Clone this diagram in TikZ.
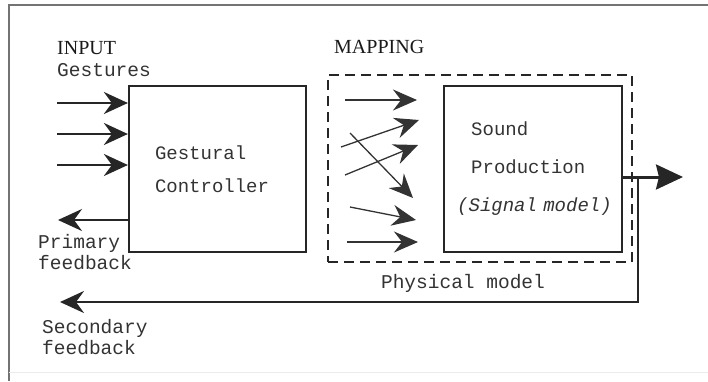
\documentclass[tikz,border=0pt]{standalone}
\usepackage{fontspec}
\setmainfont{Liberation Serif}
\newfontfamily\slabfont{Liberation Mono}
\usepackage{tikz}
\usetikzlibrary{calc}
\usetikzlibrary{arrows.meta}
\usetikzlibrary{positioning}

\begin{document}
\begin{tikzpicture}[x=1pt,y=-1pt]
% 1 = 1 pixel of the sketch, y grows downwards
    \def\BOXW{177pt} %width of blocks
    \def\BOXH{166pt} %height of blocks
    \def\YOUT{177}   %output line
    \def\YSEC{302}   %secondary feedback line
    \def\XTAP{638}

    \tikzset{
      block/.style={draw=black!85, line width=2.2pt,
        minimum width=\BOXW, minimum height=\BOXH,
        text width=125pt, inner xsep=26pt, align=left,
        font=\slabfont\fontsize{19}{33}\selectfont, text=black!80},
      lbl/.style={inner sep=0pt, anchor=west, align=left, text=black!80,
        font=\slabfont\fontsize{19.5}{21}\selectfont},
      head/.style={inner sep=0pt, anchor=west, text=black!90,
        font=\fontsize{20}{24}\selectfont},
      thickarrow/.style={-{Stealth[length=24pt,width=22pt,inset=8pt]},
        line width=2.5pt, draw=black!85},
      thinarrow/.style={-{Stealth[length=24pt,width=21pt,inset=8pt]},
        line width=1.3pt, draw=black!80},
    }

    \useasboundingbox (0,0) rectangle (708,381);

    % FRAME
    \draw[black!55, line width=1.5pt] (708,5) -- (9,5) -- (9,381);
    \draw[black!8, line width=1pt] (9,372) -- (708,372);

    % BLOCKS
    \node[block] (ctrl) at (217.5,169) {Gestural\\Controller};
    \node[block, right=136pt of ctrl, minimum width=178pt,
        text width=124pt, inner xsep=27pt,
        font=\slabfont\fontsize{19}{38}\selectfont]
        (sound) {Sound\\Production\\%
        \hspace*{-14pt}\mbox{\textit{(Signal model)}}};
    \node[draw=black!85, dash pattern=on 10pt off 6pt, line width=2.5pt,
        minimum width=304pt, minimum height=187pt] (mapbox) at (480,168.5) {};

    % LABELS
    \node[head] (input) at (57,48) {INPUT};
    \node[lbl] (gestures) at (57,70) {Gestures};
    \node[head] (mapping) at (334,47) {MAPPING};
    \node[lbl] (primary) at (38,252.5) {Primary\\feedback};
    \node[lbl] (secondary) at (42,337.5) {Secondary\\feedback};
    \node[lbl, anchor=center] (physical) at (463,283) {Physical model};

    % INPUT ARROWS
    \coordinate (g1) at (57,103);
    \coordinate (g2) at (57,134);
    \coordinate (g3) at (57,165);
    \draw[thickarrow] (g1) -- (g1 -| ctrl.west);
    \draw[thickarrow] (g2) -- (g2 -| ctrl.west);
    \draw[thickarrow] (g3) -- (g3 -| ctrl.west);

    % PRIMARY FEEDBACK
    \coordinate (pf) at (58,220);
    \draw[thickarrow] (ctrl.west |- pf) -- (pf);

    % MAPPING ARROWS
    \coordinate (m1s) at (345,100); \coordinate (m1e) at (417,100);
    \coordinate (m2s) at (341,147); \coordinate (m2e) at (419,120);
    \coordinate (m3s) at (345,175); \coordinate (m3e) at (418,145);
    \coordinate (m4s) at (350,133); \coordinate (m4e) at (413,198);
    \coordinate (m5s) at (350,207); \coordinate (m5e) at (416,220);
    \coordinate (m6s) at (347,242); \coordinate (m6e) at (418,242);
    \draw[thinarrow] (m1s) -- (m1e);
    \draw[thinarrow] (m2s) -- (m2e);
    \draw[thinarrow] (m3s) -- (m3e);
    \draw[thinarrow] (m4s) -- (m4e);
    \draw[thinarrow] (m5s) -- (m5e);
    \draw[thinarrow] (m6s) -- (m6e);

    % OUTPUT ARROW
    \coordinate (out) at (683,\YOUT);
    \draw[-{Stealth[length=27pt,width=25pt,inset=3pt]}, line width=3pt,
        draw=black!85] (sound.east |- out) -- (out);

    % SECONDARY FEEDBACK
    \coordinate (tap) at (\XTAP,\YOUT);
    \coordinate (sf) at (60,\YSEC);
    \draw[thickarrow] (tap) |- (sf);

\end{tikzpicture}
\end{document}
